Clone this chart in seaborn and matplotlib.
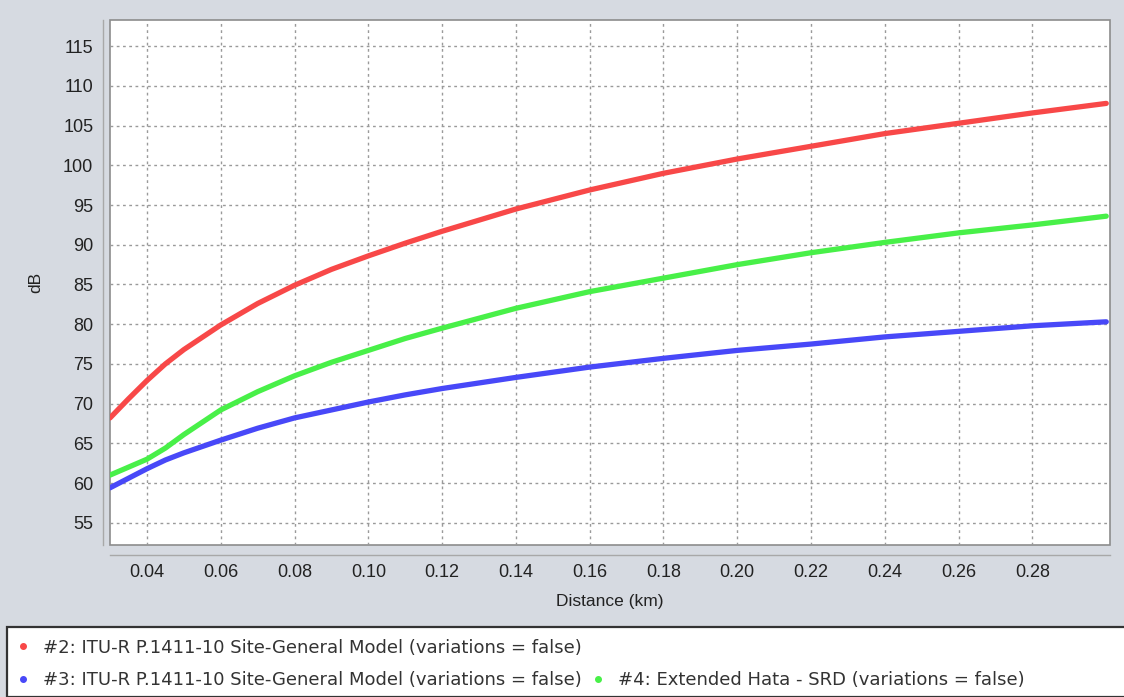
import pandas as pd
import matplotlib.pyplot as plt
import seaborn as sns
from matplotlib.lines import Line2D
from matplotlib.patches import Rectangle
from matplotlib.ticker import FormatStrFormatter

# Giá trị
distance_km = [0.03, 0.035, 0.04, 0.045, 0.05, 0.06, 0.07, 0.08, 0.09, 0.10, 0.11,
               0.12, 0.14, 0.16, 0.18, 0.20, 0.22, 0.24, 0.26, 0.28, 0.30]
loss_p1411_a = [68.2, 70.6, 72.9, 75.0, 76.8, 79.9, 82.6, 84.9, 86.9, 88.6, 90.2,
                91.7, 94.5, 96.9, 99.0, 100.8, 102.4, 104.0, 105.3, 106.6, 107.8]
loss_p1411_b = [59.4, 60.6, 61.8, 62.9, 63.8, 65.4, 66.9, 68.2, 69.2, 70.2, 71.1,
                71.9, 73.3, 74.6, 75.7, 76.7, 77.5, 78.4, 79.1, 79.8, 80.3]
loss_hata = [61.0, 62.0, 63.0, 64.4, 66.1, 69.2, 71.5, 73.5, 75.2, 76.7, 78.2,
             79.5, 82.0, 84.1, 85.8, 87.5, 89.0, 90.3, 91.5, 92.5, 93.6]

series_names = [
    "#2: ITU-R P.1411-10 Site-General Model (variations = false)",
    "#3: ITU-R P.1411-10 Site-General Model (variations = false)",
    "#4: Extended Hata - SRD (variations = false)",
]
series_colors = ["#f84848", "#4848f8", "#48f048"]

x_ticks = [0.04, 0.06, 0.08, 0.10, 0.12, 0.14, 0.16, 0.18, 0.20, 0.22, 0.24, 0.26, 0.28]
y_ticks = [55, 60, 65, 70, 75, 80, 85, 90, 95, 100, 105, 110, 115]

sns.set_style("white")
plt.rcParams['font.family'] = ['Liberation Sans', 'DejaVu Sans']

df = pd.DataFrame({
    'Distance': distance_km * 3,
    'dB': loss_p1411_a + loss_p1411_b + loss_hata,
    'Series': [series_names[0]] * len(distance_km)
              + [series_names[1]] * len(distance_km)
              + [series_names[2]] * len(distance_km),
})

bg = '#d6dae1'
fig = plt.figure(figsize=(11.24, 6.97), dpi=100, facecolor=bg)
ax = fig.add_axes([0.0979, 0.2181, 0.8896, 0.7532])

sns.lineplot(data=df, x='Distance', y='dB', hue='Series',
             palette=dict(zip(series_names, series_colors)),
             linewidth=3.8, legend=False, ax=ax)

ax.set_xlim(0.03, 0.301)
ax.set_ylim(52.2, 118.3)
ax.set_xticks(x_ticks)
ax.set_yticks(y_ticks)
ax.xaxis.set_major_formatter(FormatStrFormatter('%.2f'))

ax.grid(True, color='#9a9a9a', linestyle=(0, (2, 2.5)), linewidth=1.0)
ax.set_facecolor('white')
ax.patch.set_edgecolor('#8c8c8c')
ax.patch.set_linewidth(1.2)

for s in ['top', 'right']:
    ax.spines[s].set_visible(False)
ax.spines['left'].set_position(('outward', 5))
ax.spines['bottom'].set_position(('outward', 7))
for s in ['left', 'bottom']:
    ax.spines[s].set_color('#a8a8a8')
    ax.spines[s].set_linewidth(1.0)

ax.tick_params(axis='both', direction='out', length=3, width=0.8,
               color='#9a9a9a', labelsize=13, labelcolor='#222222', pad=4)
ax.set_xlabel("Distance (km)", fontsize=12.5, color='#222222', labelpad=9)
ax.set_ylabel("dB", fontsize=12.5, color='#222222', labelpad=14)

# Khung chú thích
fig.patches.append(Rectangle((7 / 1124, 0), 1.0, 70 / 697, transform=fig.transFigure,
                             facecolor='white', edgecolor='#333333', linewidth=1.6))

handles = [
    Line2D([], [], marker='o', linestyle='none', markersize=4, color=series_colors[0]),
    Line2D([], [], marker='o', linestyle='none', markersize=4, color=series_colors[1]),
    Line2D([], [], linestyle='none'),
    Line2D([], [], marker='o', linestyle='none', markersize=4, color=series_colors[2]),
]
labels = [series_names[0], series_names[1], "", series_names[2]]
fig.legend(handles, labels, ncol=2, loc='upper left',
           bbox_to_anchor=(14 / 1124, 1 - 637 / 697), frameon=False,
           prop={'family': 'DejaVu Sans', 'size': 13}, labelcolor='#333333',
           handlelength=0.8, handletextpad=0.7, columnspacing=0.5,
           labelspacing=0.8, borderaxespad=0, borderpad=0.1)

fig.savefig("out.png", dpi=100, facecolor=bg)
